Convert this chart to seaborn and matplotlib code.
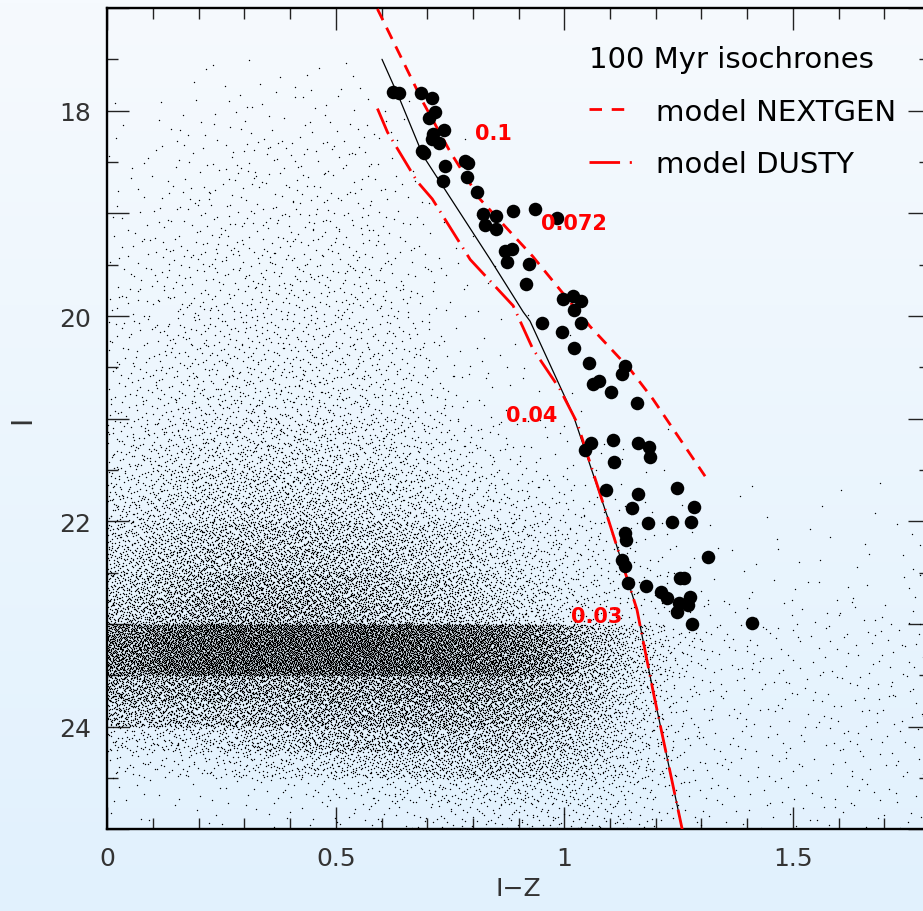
import numpy as np
import matplotlib
matplotlib.use("Agg")
import matplotlib.pyplot as plt
from matplotlib.lines import Line2D
from matplotlib.ticker import MultipleLocator, FixedLocator
import seaborn as sns

sns.set_theme(style="ticks")
plt.rcParams["font.family"] = ["DejaVu Sans"]
plt.rcParams["lines.scale_dashes"] = False

# ---- candidate cluster members: colour I-Z and magnitude I ----
member_iz = [0.625, 0.638, 0.686, 0.711, 0.717, 0.704, 0.737, 0.713, 0.711, 0.726,
             0.689, 0.693, 0.739, 0.783, 0.789, 0.734, 0.787, 0.809, 0.822, 0.851,
             0.826, 0.851, 0.888, 0.936, 0.984, 0.870, 0.886, 0.875, 0.923, 0.916,
             0.997, 1.019, 1.037, 1.021, 1.037, 0.951, 0.995, 1.021, 1.054, 1.133,
             1.126, 1.076, 1.063, 1.102, 1.159, 1.058, 1.045, 1.106, 1.161, 1.185,
             1.187, 1.109, 1.091, 1.161, 1.247, 1.148, 1.284, 1.183, 1.236, 1.277,
             1.133, 1.135, 1.314, 1.126, 1.133, 1.253, 1.262, 1.139, 1.179, 1.212,
             1.225, 1.251, 1.275, 1.271, 1.247, 1.280, 1.411]
member_i = [17.82, 17.83, 17.83, 17.88, 18.01, 18.07, 18.19, 18.23, 18.28, 18.32,
            18.39, 18.41, 18.54, 18.49, 18.51, 18.69, 18.65, 18.79, 19.01, 19.03,
            19.11, 19.15, 18.98, 18.96, 19.05, 19.37, 19.35, 19.47, 19.49, 19.69,
            19.83, 19.81, 19.85, 19.94, 20.07, 20.07, 20.16, 20.31, 20.46, 20.49,
            20.56, 20.63, 20.66, 20.74, 20.85, 21.24, 21.30, 21.21, 21.24, 21.28,
            21.37, 21.42, 21.69, 21.73, 21.67, 21.87, 21.86, 22.02, 22.01, 22.01,
            22.11, 22.18, 22.35, 22.38, 22.43, 22.55, 22.55, 22.60, 22.63, 22.69,
            22.75, 22.79, 22.74, 22.81, 22.88, 23.00, 22.99]

# ---- 100 Myr isochrones ----
nextgen_iz = [0.591, 0.691, 0.750, 0.815, 0.931, 1.056, 1.144, 1.194, 1.308]
nextgen_i = [17.01, 17.92, 18.40, 18.86, 19.42, 20.10, 20.52, 20.81, 21.56]

dusty_iz = [0.591, 0.613, 0.678, 0.711, 0.794, 0.888, 0.931, 0.990, 1.028,
            1.094, 1.159, 1.166, 1.195, 1.258]
dusty_i = [17.98, 18.21, 18.69, 18.86, 19.45, 19.90, 20.32, 20.71, 21.04,
           21.95, 22.86, 23.02, 23.67, 25.00]

combined_iz = [0.601, 0.640, 0.691, 0.838, 0.910, 0.925, 0.990, 1.019,
               1.094, 1.159, 1.166, 1.195, 1.258]
combined_i = [17.50, 17.89, 18.44, 19.45, 19.96, 20.05, 20.68, 20.96,
              21.95, 22.86, 23.02, 23.67, 25.00]

# masses (solar units) marked along the isochrones
mass_text = ["0.1", "0.072", "0.04", "0.03"]
mass_iz = [0.845, 1.020, 0.929, 1.070]
mass_i = [18.22, 19.09, 20.96, 22.92]

# ---- field stars: counts per cell (columns: I-Z bins of 0.1 from 0 to 1.8,
#      rows: I bins of 0.25 mag from 17.5 to 25) ----
field_iz_centers = [0.05, 0.15, 0.25, 0.35, 0.45, 0.55, 0.65, 0.75, 0.85,
                    0.95, 1.05, 1.15, 1.25, 1.35, 1.45, 1.55, 1.65, 1.75]
field_i_edges = [17.5, 17.75, 18.0, 18.25, 18.5, 18.75, 19.0, 19.25, 19.5, 19.75,
                 20.0, 20.25, 20.5, 20.75, 21.0, 21.25, 21.5, 21.75, 22.0, 22.25,
                 22.5, 22.75, 23.0, 23.25, 23.5, 23.75, 24.0, 24.25, 24.5, 24.75, 25.0]
field_counts = [
    [0, 1, 2.5, 2.5, 2.5, 2.5, 0.5, 0, 0, 0, 0, 0, 0, 0, 0, 0, 0, 0],
    [0.5, 2.5, 3.5, 5, 5, 3.5, 1, 0, 0, 0, 0, 0, 0, 0, 0, 0, 0, 0],
    [1, 3.5, 6, 7, 7, 6, 2.5, 0.5, 0, 0, 0, 0, 0, 0, 0, 0, 0, 0],
    [2.5, 6, 8.5, 10, 10, 8.5, 3.5, 1, 0, 0, 0, 0, 0, 0, 0, 0, 0, 0],
    [3.5, 7, 11, 12, 12, 11, 5, 1, 0, 0, 0, 0, 0, 0, 0, 0, 0, 0],
    [5, 10, 12, 13, 13, 12, 6, 2, 0, 0, 0, 0, 0, 0, 0, 0, 0, 0],
    [7, 12, 16, 18, 18, 16, 8, 3, 0.5, 0, 0, 0, 0, 0, 0, 0, 0, 0],
    [8, 15, 19, 20, 20, 18, 11, 3, 0.5, 0, 0, 0, 0, 0, 0, 0, 0, 0],
    [9, 16, 20, 23, 23, 20, 12, 4, 1, 0, 0, 0, 0, 0, 0, 0, 0, 0],
    [11, 19, 23, 26, 26, 23, 15, 5, 1, 0, 0, 0, 0, 0, 0, 0, 0, 0],
    [12, 22, 27, 28, 28, 26, 18, 7, 2, 0.5, 0, 0, 0, 0, 0, 0, 0, 0],
    [15, 24, 31, 32, 32, 30, 22, 8, 3, 0.5, 0, 0, 0, 0, 0, 0, 0, 0],
    [18, 28, 35, 38, 38, 34, 24, 11, 4, 1, 0, 0, 0, 0, 0, 0, 0, 0],
    [20, 34, 40, 43, 43, 39, 28, 14, 5, 2, 0.5, 0, 0, 0, 0, 0, 0, 0],
    [30, 48, 60, 65, 65, 57, 42, 23, 11, 5, 2, 1, 0, 0, 0, 0, 0, 0],
    [39, 63, 75, 80, 80, 70, 51, 29, 15, 8, 3, 1.5, 0, 0, 0, 0, 0, 0],
    [52, 82, 99, 108, 108, 95, 70, 45, 28, 16, 9, 3, 1, 0.5, 0.5, 0.5, 0.5, 0.5],
    [68, 102, 120, 130, 130, 114, 87, 60, 39, 24, 12, 5, 1.5, 1, 1, 1, 1, 1],
    [98, 150, 180, 192, 183, 165, 138, 105, 68, 42, 21, 9, 3, 1.5, 1.5, 1.5, 1.5, 1.5],
    [120, 183, 213, 225, 219, 192, 162, 128, 83, 51, 26, 12, 4, 2, 2, 2, 2, 2],
    [158, 225, 278, 297, 288, 255, 213, 168, 111, 72, 36, 17, 6, 3, 3, 3, 3, 3],
    [203, 270, 323, 338, 327, 288, 248, 195, 132, 87, 45, 21, 9, 5, 5, 5, 5, 5],
    [512, 640, 704, 704, 704, 704, 688, 656, 592, 448, 240, 95, 28, 10, 8, 8, 8, 8],
    [512, 656, 704, 704, 704, 704, 688, 656, 592, 456, 250, 100, 28, 10, 8, 8, 8, 8],
    [315, 330, 345, 345, 360, 375, 393, 405, 375, 308, 190, 80, 20, 9, 8, 8, 8, 8],
    [218, 233, 252, 267, 288, 306, 323, 323, 306, 267, 160, 70, 18, 9, 8, 8, 8, 8],
    [57, 68, 99, 150, 188, 207, 219, 219, 219, 192, 125, 58, 16, 8, 8, 8, 8, 8],
    [21, 27, 39, 60, 84, 111, 138, 159, 171, 150, 100, 48, 14, 8, 7, 7, 7, 7],
    [5, 5, 7, 10, 17, 23, 39, 49, 60, 60, 52, 28, 11, 6, 6, 6, 6, 6],
    [3, 3, 3, 4, 5, 8, 13, 22, 27, 31, 30, 19, 10, 6, 6, 6, 6, 6],
]


def halton(n, base):
    """Deterministic low-discrepancy sequence in [0, 1)."""
    idx = np.arange(1, n + 1)
    out = np.zeros(n)
    f = 1.0
    while idx.any():
        f /= base
        out += f * (idx % base)
        idx //= base
    return out


def stipple_field(centers, edges, counts):
    """Turn the binned star counts into individual dots."""
    counts = np.asarray(counts, float)
    centers = np.asarray(centers)
    edges = np.asarray(edges)
    dx = centers[1] - centers[0]
    x0, x1 = centers[0] - dx / 2, centers[-1] + dx / 2
    cell = dx * (edges[1] - edges[0])
    cmax = counts.max()
    n = int(cmax / cell * (x1 - x0) * (edges[-1] - edges[0]))
    xs = x0 + (x1 - x0) * halton(n, 2)
    ys = edges[0] + (edges[-1] - edges[0]) * halton(n, 3)
    u = halton(n, 5)
    row = np.clip(np.searchsorted(edges, ys) - 1, 0, len(edges) - 2)
    fx = (xs - centers[0]) / dx
    i0 = np.clip(np.floor(fx).astype(int), 0, len(centers) - 2)
    t = np.clip(fx - i0, 0, 1)
    dens = counts[row, i0] * (1 - t) + counts[row, i0 + 1] * t
    keep = u < dens / cmax
    return xs[keep], ys[keep]


field_x, field_y = stipple_field(field_iz_centers, field_i_edges, field_counts)

# ---- figure ----
fig = plt.figure(figsize=(9.23, 9.12), dpi=100)

# soft vertical backdrop
bg = fig.add_axes([0, 0, 1, 1], zorder=-10)
top = np.array([246, 250, 254]) / 255
bot = np.array([225, 241, 253]) / 255
frac = np.linspace(0, 1, 256)[:, None]
grad = top + (bot - top) * frac
bg.imshow(grad[:, None, :], aspect="auto", extent=[0, 1, 0, 1])
bg.set_axis_off()

ax = fig.add_axes([0.1163, 0.0894, 0.8912, 0.9008])
ax.set_facecolor("none")

sns.scatterplot(x=field_x, y=field_y, s=1.0, marker="o", linewidth=0,
                color="#000000", alpha=1.0, ax=ax, zorder=1, legend=False)

sns.lineplot(x=combined_iz, y=combined_i, sort=False, estimator=None,
             color="black", lw=0.9, ax=ax, zorder=3)
sns.lineplot(x=nextgen_iz, y=nextgen_i, sort=False, estimator=None,
             color="#ff0000", lw=2.0, linestyle=(0, (9, 6)), ax=ax, zorder=4)
sns.lineplot(x=dusty_iz, y=dusty_i, sort=False, estimator=None,
             color="#ff0000", lw=2.0, linestyle=(0, (20, 5, 1, 5)), ax=ax, zorder=4)

sns.scatterplot(x=member_iz, y=member_i, s=95, color="black", linewidth=0,
                ax=ax, zorder=5, legend=False)

for txt, mx, my in zip(mass_text, mass_iz, mass_i):
    ax.text(mx, my, txt, color="#ff0000", fontsize=15, fontweight="bold",
            ha="center", va="center", zorder=6)

ax.set_xlim(0, 1.8)
ax.set_ylim(25, 17)

ax.xaxis.set_major_locator(FixedLocator([0, 0.5, 1, 1.5]))
ax.set_xticklabels(["0", "0.5", "1", "1.5"])
ax.xaxis.set_minor_locator(MultipleLocator(0.1))
ax.yaxis.set_minor_locator(MultipleLocator(0.5))
ax.set_yticks(range(17, 26))
ax.set_yticklabels(["" if v % 2 else str(v) for v in range(17, 26)])

ax.tick_params(which="both", direction="in", top=True, right=True,
               color="#222222", width=1.0)
ax.tick_params(which="major", length=16, labelsize=18, labelcolor="#333333", pad=12)
ax.tick_params(which="minor", length=8)
for s in ax.spines.values():
    s.set_linewidth(1.7)
    s.set_color("black")

ax.set_xlabel("I\u2212Z", fontsize=18, color="#333333", labelpad=4)
ax.set_ylabel("I", fontsize=20, color="#333333", labelpad=16)

handles = [
    Line2D([], [], color="#ff0000", lw=2.0, linestyle=(0, (9, 7))),
    Line2D([], [], color="#ff0000", lw=2.0, linestyle=(0, (22, 7, 1.5, 7))),
]
leg = ax.legend(handles, ["model NEXTGEN", "model DUSTY"],
                title="100 Myr isochrones", title_fontsize=21, fontsize=21,
                loc="upper left", bbox_to_anchor=(0.585, 0.955), frameon=False,
                alignment="left", borderpad=0, borderaxespad=0,
                handlelength=1.5, handletextpad=0.8, labelspacing=0.85,
                labelcolor="black")
leg.get_title().set_color("black")

fig.savefig("out.png", dpi=100)
